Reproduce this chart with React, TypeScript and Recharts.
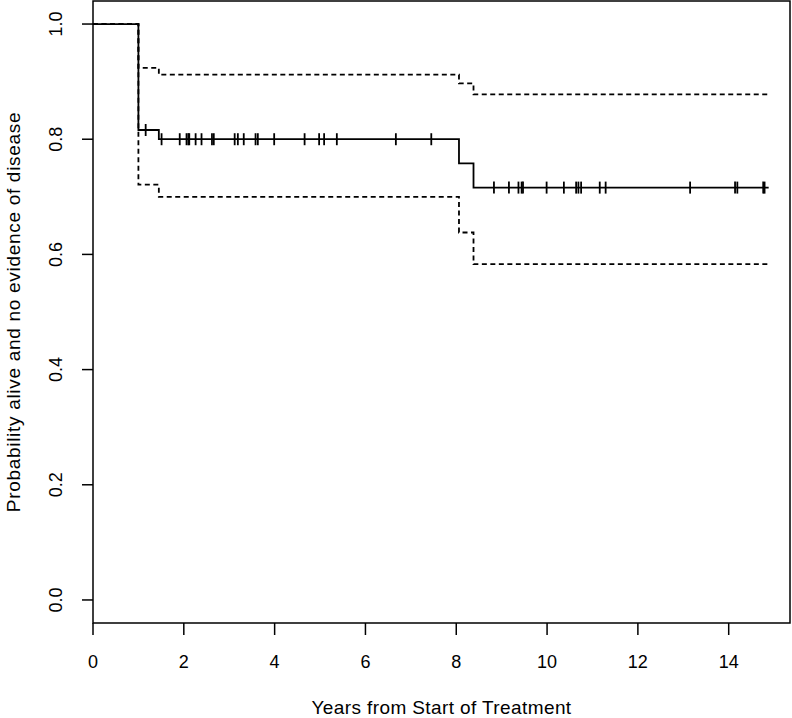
import { ComposedChart, Line, Scatter, XAxis, YAxis, ReferenceArea } from "recharts";

// Kaplan-Meier estimate: step times and values
const stepTimes = [0, 1.0, 1.45, 8.06, 8.38, 14.88];
const survival = [1, 0.816, 0.8, 0.758, 0.716, 0.716];
const upperCI = [1, 0.924, 0.912, 0.897, 0.878, 0.878];
const lowerCI = [1, 0.721, 0.7, 0.638, 0.583, 0.583];

// censored observations (tick marks on the curve)
const censorTimes = [
  1.16, 1.51, 1.91, 2.06, 2.1, 2.12, 2.26, 2.39, 2.62, 2.66, 3.12, 3.19, 3.32,
  3.58, 3.63, 3.99, 4.66, 4.98, 5.09, 5.37, 6.67, 7.45, 8.83, 9.16, 9.37, 9.44,
  9.47, 9.99, 10.37, 10.64, 10.69, 10.75, 11.16, 11.29, 13.15, 14.14, 14.19,
  14.76, 14.79,
];

const xTicks = [0, 2, 4, 6, 8, 10, 12, 14];
const yTicks = [0, 0.2, 0.4, 0.6, 0.8, 1.0];
const xDomain = [0, 15.35];
const yDomain = [-0.04, 1.04];

const FONT = "'Liberation Sans', Arial, sans-serif";

const survData = stepTimes.map((t, i) => ({ t, s: survival[i] }));
const upperData = stepTimes.map((t, i) => ({ t, s: upperCI[i] }));
const lowerData = stepTimes.map((t, i) => ({ t, s: lowerCI[i] }));

// survival value at a censoring time = value of the step in effect
const survAt = (t: number) => {
  let v = survival[0];
  stepTimes.forEach((st, i) => {
    if (st <= t) v = survival[i];
  });
  return v;
};
const censorData = censorTimes.map((t) => ({ t, s: survAt(t) }));

const CensorMark = (props: any) => {
  const { cx, cy } = props;
  return <line x1={cx} x2={cx} y1={cy - 6} y2={cy + 6} stroke="#000" strokeWidth={1.8} />;
};

const YTick = (props: any) => {
  const { x, y, payload } = props;
  return (
    <text
      x={x}
      y={y}
      transform={`rotate(-90, ${x}, ${y})`}
      textAnchor="middle"
      fontSize={18}
      fontFamily={FONT}
      fill="#000"
    >
      {Number(payload.value).toFixed(1)}
    </text>
  );
};

const YLabel = (props: any) => {
  const vb = props.viewBox;
  const cy = vb.y + vb.height / 2;
  return (
    <text
      x={20}
      y={cy}
      transform={`rotate(-90, 20, ${cy})`}
      textAnchor="middle"
      fontSize={19}
      letterSpacing={0.7}
      fontFamily={FONT}
      fill="#000"
    >
      Probability alive and no evidence of disease
    </text>
  );
};

const App = () => {
  return (
    <div style={{ position: "absolute", left: 0, top: 0, background: "#fff" }}>
      <ComposedChart width={792} height={718} margin={{ top: 1, right: 2, bottom: 0, left: 0 }}>
        <XAxis
          type="number"
          dataKey="t"
          domain={xDomain}
          ticks={xTicks}
          allowDataOverflow
          height={95}
          axisLine={false}
          tickSize={12}
          tickMargin={20}
          tickLine={{ stroke: "#000", strokeWidth: 1.5 }}
          tick={{ fontSize: 18, fill: "#000", fontFamily: FONT }}
          label={{
            value: "Years from Start of Treatment",
            position: "insideBottom",
            offset: 4,
            fontSize: 19,
            letterSpacing: 0.4,
            fill: "#000",
            fontFamily: FONT,
          }}
        />
        <YAxis
          type="number"
          dataKey="s"
          domain={yDomain}
          ticks={yTicks}
          allowDataOverflow
          width={93}
          axisLine={false}
          tickSize={11}
          tickMargin={20}
          tickLine={{ stroke: "#000", strokeWidth: 1.5 }}
          tick={<YTick />}
          label={<YLabel />}
        />
        <ReferenceArea
          x1={xDomain[0]}
          x2={xDomain[1]}
          y1={yDomain[0]}
          y2={yDomain[1]}
          fill="none"
          stroke="#000"
          strokeWidth={1.5}
          ifOverflow="visible"
        />
        <Line
          data={upperData}
          dataKey="s"
          type="stepAfter"
          stroke="#000"
          strokeWidth={1.8}
          strokeDasharray="5 3.5"
          dot={false}
          isAnimationActive={false}
        />
        <Line
          data={lowerData}
          dataKey="s"
          type="stepAfter"
          stroke="#000"
          strokeWidth={1.8}
          strokeDasharray="5 3.5"
          dot={false}
          isAnimationActive={false}
        />
        <Line
          data={survData}
          dataKey="s"
          type="stepAfter"
          stroke="#000"
          strokeWidth={1.8}
          dot={false}
          isAnimationActive={false}
        />
        <Scatter data={censorData} dataKey="s" shape={<CensorMark />} isAnimationActive={false} />
      </ComposedChart>
    </div>
  );
};

export default App;
